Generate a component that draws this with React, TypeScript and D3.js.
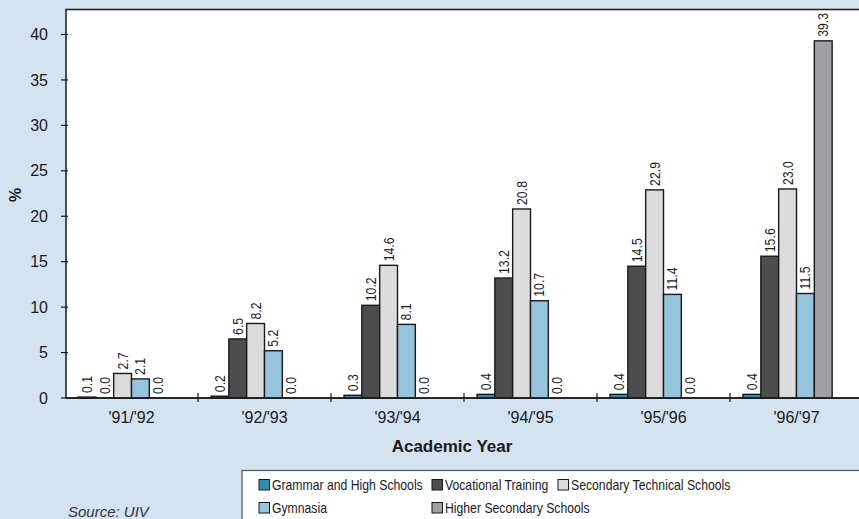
import React from "react";
import * as d3 from "d3";

// Academic years shown on the x axis
const years = ["'91/'92", "'92/'93", "'93/'94", "'94/'95", "'95/'96", "'96/'97"];

// Series names, in drawing order
const seriesNames = [
  "Grammar and High Schools",
  "Vocational Training",
  "Secondary Technical Schools",
  "Gymnasia",
  "Higher Secondary Schools",
];

// Share in % per academic year
const grammar = [0.1, 0.2, 0.3, 0.4, 0.4, 0.4];
const vocational = [0.0, 6.5, 10.2, 13.2, 14.5, 15.6];
const secondaryTechnical = [2.7, 8.2, 14.6, 20.8, 22.9, 23.0];
const gymnasia = [2.1, 5.2, 8.1, 10.7, 11.4, 11.5];
const higherSecondary = [0.0, 0.0, 0.0, 0.0, 0.0, 39.3];

const yTicks = [0, 5, 10, 15, 20, 25, 30, 35, 40];

const seriesValues = [grammar, vocational, secondaryTechnical, gymnasia, higherSecondary];
const seriesColors = ["#2f8fb4", "#4d4d4d", "#dcdcde", "#96c4dc", "#a0a0a4"];

const W = 859;
const H = 519;
const plot = { left: 66, top: 9.5, right: 863, bottom: 398 };
const FONT = "'Liberation Sans', Arial, Helvetica, sans-serif";
// horizontal squeeze giving a condensed face for labels and legend
const NARROW_LABEL = 0.88;
const NARROW_LEGEND = 0.815;

export default function App() {
  const x0 = d3.scaleBand<string>().domain(years).range([plot.left - 1, plot.right]).padding(0);
  // six slots per year: five series and one spare slot, clusters padded on both sides
  const slotKeys = [...seriesNames, "_"];
  const x1 = d3
    .scaleBand<string>()
    .domain(slotKeys)
    .range([0, x0.bandwidth()])
    .paddingInner(0)
    .paddingOuter(0.73);
  const y = d3.scaleLinear().domain([0, 42.75]).range([plot.bottom, plot.top]);

  const legendCols = [259, 432, 558];
  const legendRows = [485, 508];
  const legendPos = [
    [legendCols[0], legendRows[0]],
    [legendCols[1], legendRows[0]],
    [legendCols[2], legendRows[0]],
    [legendCols[0], legendRows[1]],
    [legendCols[1], legendRows[1]],
  ];

  return (
    <svg
      width={W}
      height={H}
      style={{ position: "absolute", left: 0, top: 0, display: "block" }}
      fontFamily={FONT}
    >
      <rect x={0} y={0} width={W} height={H} fill="#d3e3f2" />
      {/* plot area */}
      <rect
        x={plot.left}
        y={plot.top}
        width={plot.right - plot.left}
        height={plot.bottom - plot.top}
        fill="#ffffff"
        stroke="#1a1a1a"
        strokeWidth={1.5}
      />

      {/* y axis ticks and labels */}
      {yTicks.map((t) => (
        <g key={t} transform={`translate(0,${y(t)})`}>
          <line x1={plot.left - 5} x2={plot.left + 2} stroke="#1a1a1a" strokeWidth={1.2} />
          <text x={48} dy="0.35em" textAnchor="end" fontSize={16} fill="#1a1a1a">
            {t}
          </text>
        </g>
      ))}
      <text
        transform={`translate(21,${195}) rotate(-90)`}
        textAnchor="middle"
        fontSize={16}
        fontWeight="bold"
        fill="#1a1a1a"
      >
        %
      </text>

      {/* bars */}
      {years.map((yr, i) => (
        <g key={yr} transform={`translate(${x0(yr)},0)`}>
          {seriesNames.map((s, k) => {
            const v = seriesValues[k][i];
            const bx = x1(s)!;
            const bw = x1.bandwidth();
            return (
              <g key={s}>
                {v > 0 && (
                  <rect
                    x={bx}
                    y={y(v)}
                    width={bw}
                    height={y(0) - y(v)}
                    fill={seriesColors[k]}
                    stroke="#1a1a1a"
                    strokeWidth={1.4}
                  />
                )}
                <text
                  transform={`translate(${bx + bw / 2},${y(v) - 4}) rotate(-90) scale(${NARROW_LABEL},1)`}
                  dy="0.36em"
                  fontSize={14}
                  fill="#1a1a1a"
                >
                  {v.toFixed(1)}
                </text>
              </g>
            );
          })}
        </g>
      ))}

      {/* x axis */}
      <line x1={plot.left} x2={plot.right} y1={plot.bottom} y2={plot.bottom} stroke="#1a1a1a" strokeWidth={1.5} />
      {years.slice(1).map((yr) => (
        <line
          key={yr}
          x1={x0(yr)}
          x2={x0(yr)}
          y1={plot.bottom - 5}
          y2={plot.bottom + 4}
          stroke="#1a1a1a"
          strokeWidth={1.2}
        />
      ))}
      {years.map((yr) => (
        <text
          key={yr}
          x={x0(yr)! + x0.bandwidth() / 2}
          y={423}
          textAnchor="middle"
          fontSize={16}
          fill="#1a1a1a"
        >
          {yr}
        </text>
      ))}
      <text x={452} y={452} textAnchor="middle" fontSize={17} fontWeight="bold" fill="#1a1a1a">
        Academic Year
      </text>

      {/* legend */}
      <rect x={242} y={470.5} width={700} height={80} fill="#ffffff" stroke="#555" strokeWidth={1.2} />
      {seriesNames.map((s, k) => (
        <g key={s} transform={`translate(${legendPos[k][0]},${legendPos[k][1]})`}>
          <rect x={0} y={-5.5} width={10.5} height={10.5} fill={seriesColors[k]} stroke="#1a1a1a" strokeWidth={1} />
          <text
            transform={`translate(13,0) scale(${NARROW_LEGEND},1)`}
            dy="0.36em"
            fontSize={15}
            fill="#1a1a1a"
          >
            {s}
          </text>
        </g>
      ))}

      <text x={68} y={517} fontSize={15} fontStyle="italic" fill="#333">
        Source: UIV
      </text>
    </svg>
  );
}
